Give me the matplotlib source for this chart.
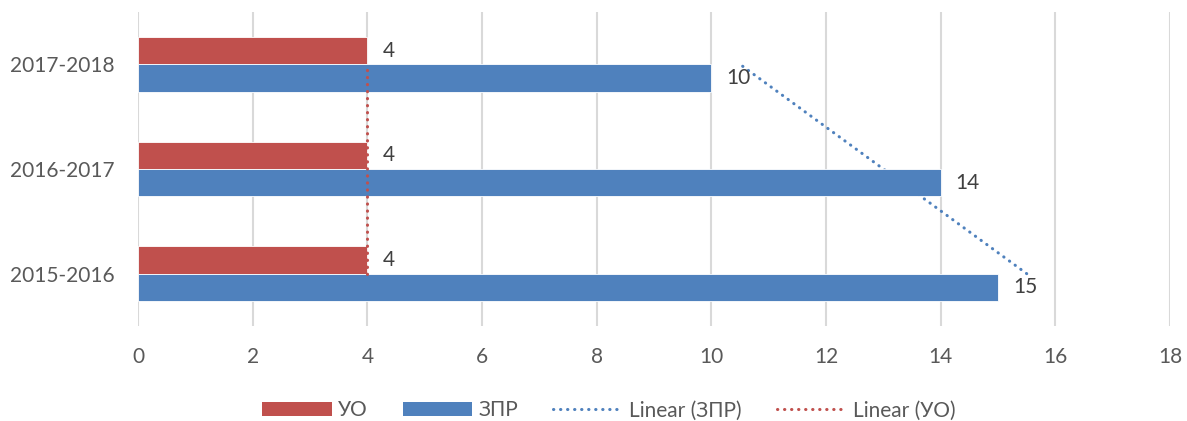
import numpy as np
import matplotlib
matplotlib.use("Agg")
import matplotlib.pyplot as plt
from matplotlib.patches import Patch
from matplotlib.lines import Line2D

# données
years = ["2015-2016", "2016-2017", "2017-2018"]
uo = [4, 4, 4]
zpr = [15, 14, 10]
x_ticks = [0, 2, 4, 6, 8, 10, 12, 14, 16, 18]

red = "#C0504D"
blue = "#4F81BD"
txt = "#595959"

plt.rcParams['font.family'] = ['Lato', 'DejaVu Sans']

fig = plt.figure(figsize=(11.87, 4.21), dpi=100)
ax = fig.add_axes([0.1163, 0.2257, 0.8694, 0.7458])

pos = np.arange(len(years))
h = 0.26

ax.barh(pos + h / 2, uo, height=h, color=red, edgecolor="white", linewidth=0.6, zorder=3)
ax.barh(pos - h / 2, zpr, height=h, color=blue, edgecolor="white", linewidth=0.6, zorder=3)

# tendances linéaires (comme Excel, x = 1..n)
xs = np.arange(1, len(years) + 1)
fit_z = np.polyval(np.polyfit(xs, zpr, 1), xs)
fit_u = np.polyval(np.polyfit(xs, uo, 1), xs)
ax.plot(fit_z, pos, color=blue, lw=2.2, linestyle=(0, (0.1, 2.2)),
        dash_capstyle='round', zorder=2)
ax.plot(fit_u, pos, color=red, lw=2.2, linestyle=(0, (0.1, 2.2)),
        dash_capstyle='round', zorder=4)

# étiquettes
for p, v in zip(pos, uo):
    ax.text(v + 0.26, p + h / 2, str(v), va='center', ha='left', fontsize=15, color="#404040", zorder=5)
for p, v in zip(pos, zpr):
    ax.text(v + 0.26, p - h / 2, str(v), va='center', ha='left', fontsize=15, color="#404040", zorder=5)

ax.set_xlim(0, 18)
ax.set_ylim(-0.5, 2.5)
ax.set_xticks(x_ticks)
ax.set_yticks(pos)
ax.set_yticklabels(years)
ax.tick_params(axis='both', length=0, labelsize=15, labelcolor=txt)
ax.tick_params(axis='y', pad=17)
ax.tick_params(axis='x', pad=15)
ax.xaxis.grid(True, color="#D9D9D9", lw=1.5, zorder=0)
for s in ax.spines.values():
    s.set_visible(False)

handles = [
    Patch(facecolor=red, label="УО"),
    Patch(facecolor=blue, label="ЗПР"),
    Line2D([], [], color=blue, lw=2.2, linestyle=(0, (0.1, 2.2)), dash_capstyle='round', label="Linear (ЗПР)"),
    Line2D([], [], color=red, lw=2.2, linestyle=(0, (0.1, 2.2)), dash_capstyle='round', label="Linear (УО)"),
]
leg = fig.legend(handles=handles, loc='center', bbox_to_anchor=(0.5127, 0.025), ncol=4,
                 frameon=False, fontsize=15, handlelength=3.35, handleheight=0.65,
                 columnspacing=1.7, handletextpad=0.28, labelcolor=txt)

fig.savefig("out.png", dpi=100)
